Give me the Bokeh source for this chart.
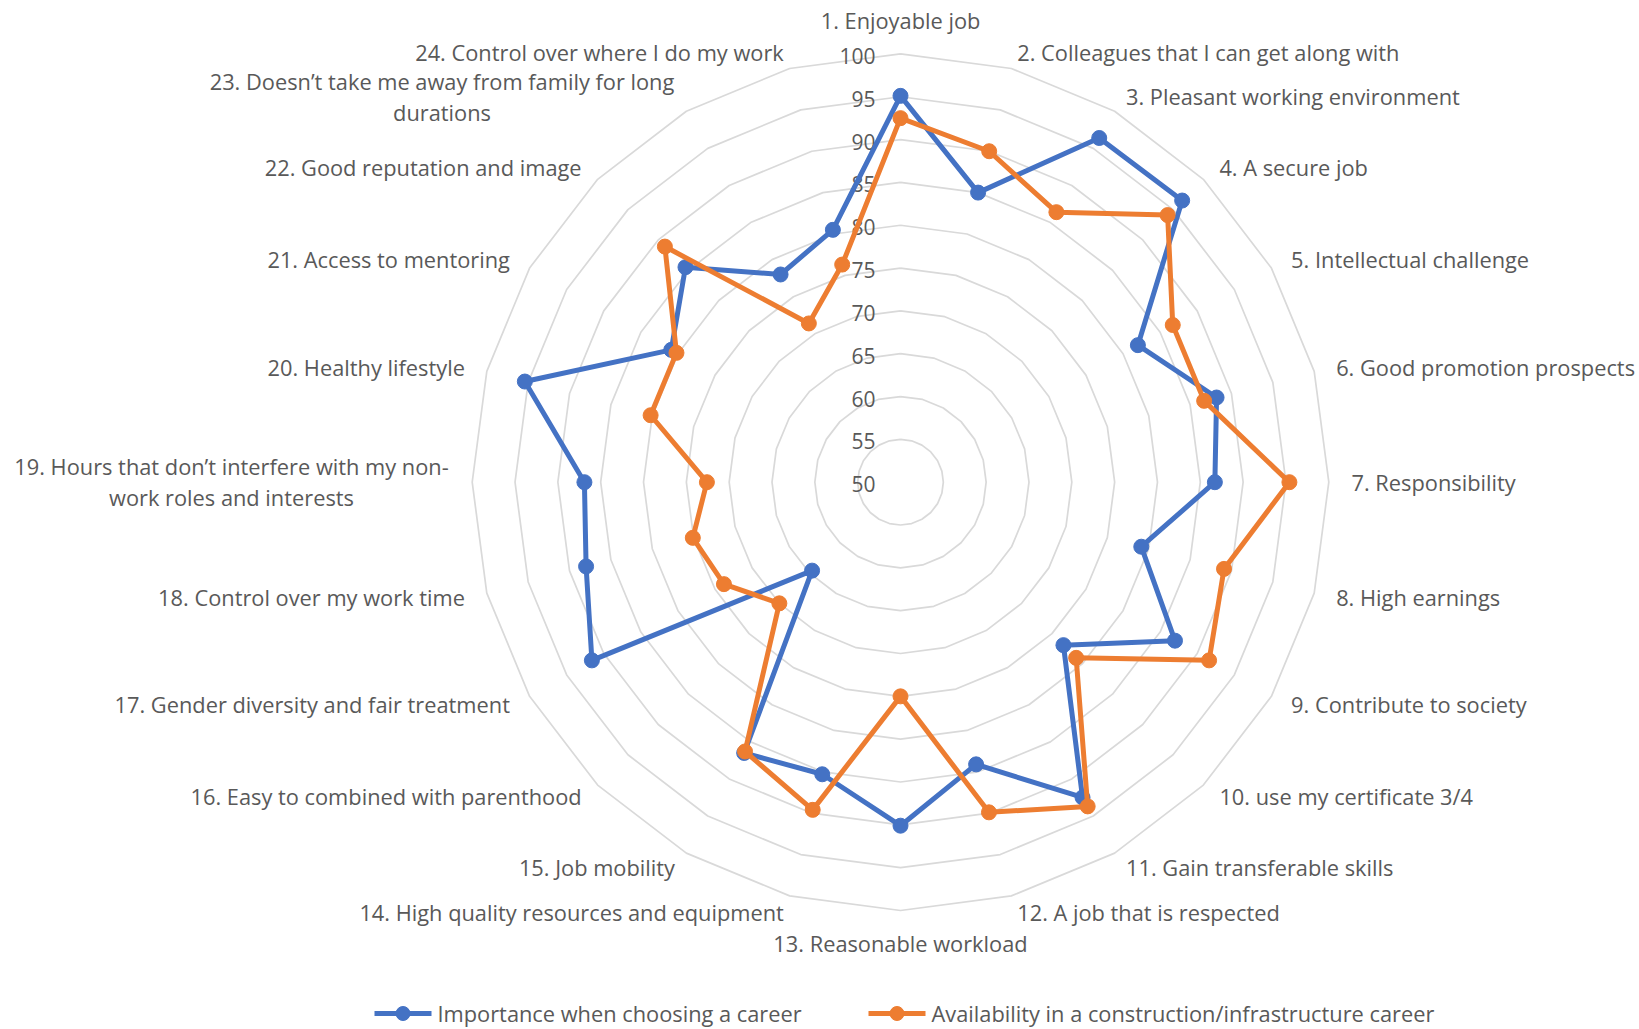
import numpy as np
from bokeh.plotting import figure
from bokeh.models import Range1d, ColumnDataSource
from bokeh.core.properties import value
from bokeh.embed import file_html
from bokeh.resources import INLINE

# ---- data -------------------------------------------------------------
categories = [
    "1. Enjoyable job",
    "2. Colleagues that I can get along with",
    "3. Pleasant working environment",
    "4. A secure job",
    "5. Intellectual challenge",
    "6. Good promotion prospects",
    "7. Responsibility",
    "8. High earnings",
    "9. Contribute to society",
    "10. use my certificate 3/4",
    "11. Gain transferable skills",
    "12. A job that is respected",
    "13. Reasonable workload",
    "14. High quality resources and equipment",
    "15. Job mobility",
    "16. Easy to combined with parenthood",
    "17. Gender diversity and fair treatment",
    "18. Control over my work time",
    "19. Hours that don\u2019t interfere with my non-\nwork roles and interests",
    "20. Healthy lifestyle",
    "21. Access to mentoring",
    "22. Good reputation and image",
    "23. Doesn\u2019t take me away from family for long\ndurations",
    "24. Control over where I do my work",
]

importance = [95.1, 85.0, 96.4, 96.5, 82.0, 88.2, 86.7, 79.1, 87.0, 76.9, 92.5, 84.1,
              90.1, 85.3, 86.5, 64.6, 91.6, 88.0, 86.9, 95.4, 80.9, 85.5, 78.0, 80.5]
availability = [92.5, 90.0, 86.4, 94.1, 86.7, 86.7, 95.4, 89.1, 91.6, 79.0, 93.7, 89.9,
                 75.0, 89.6, 86.3, 70.0, 73.8, 75.1, 72.6, 80.2, 80.2, 88.9, 71.4, 76.3]

series_names = ["Importance when choosing a career",
                "Availability in a construction/infrastructure career"]
tick_values = [50, 55, 60, 65, 70, 75, 80, 85, 90, 95, 100]

# ---- layout / style ---------------------------------------------------
W, H = 1639, 1029
CX, CY = 900, 481.7          # centre of the radar on the page
R_MIN = 50                   # value at the centre
PX_PER_UNIT = 8.566          # radial scale
FONT = "Open Sans"
LABEL_SIZE = "21.8px"
TXT = "#595959"
GRID = "#D9D9D9"
BLUE = "#4472C4"
ORANGE = "#ED7D31"
LINE_W = 5
MARKER = 15

n = len(categories)
theta = np.arange(n) * 2 * np.pi / n   # clockwise from the top


def polar(vals):
    r = (np.asarray(vals, dtype=float) - R_MIN) * PX_PER_UNIT
    return r * np.sin(theta), r * np.cos(theta)


p = figure(width=W, height=H, output_backend="svg", toolbar_location=None,
           x_range=Range1d(-CX, W - CX), y_range=Range1d(-(H - CY), CY),
           min_border=0, outline_line_color=None)
p.axis.visible = False
p.grid.visible = False
p.background_fill_color = "white"

# concentric 24-gon gridlines
for t in tick_values[1:]:
    gx, gy = polar([t] * n)
    p.line(list(gx) + [gx[0]], list(gy) + [gy[0]], line_color=GRID, line_width=1.7)

# radial value labels
tick_src = ColumnDataSource(dict(
    x=[-25] * len(tick_values),
    y=[(t - R_MIN) * PX_PER_UNIT - 2 for t in tick_values],
    text=[str(t) for t in tick_values]))
p.text("x", "y", "text", source=tick_src, text_font=value(FONT),
       text_font_size="21px", text_color=TXT, text_align="right",
       text_baseline="middle")

# category labels placed just outside the outer ring
R_LAB = 445
WRAP_W = {18: 436, 22: 466}   # widths of wrapped two-line labels
for i, lab in enumerate(categories):
    s, c = np.sin(theta[i]), np.cos(theta[i])
    if abs(s) < 1e-6:
        x, y = 0, np.sign(c) * 461.5
        align = "center"
    else:
        x = R_LAB * s + 6 * np.sign(s) * abs(s)
        y = R_LAB * c
        align = "left" if s > 0 else "right"
    lines = lab.split("\n")
    if len(lines) == 1:
        p.text([x], [y], text=[lab], text_font=value(FONT), text_font_size=LABEL_SIZE,
               text_color=TXT, text_align=align, text_baseline="middle")
    else:
        bw = WRAP_W[i]
        xc = x - bw / 2 if align == "right" else x + bw / 2
        step = 30.5
        for k, ln in enumerate(lines):
            yk = y + step * ((len(lines) - 1) / 2 - k)
            p.text([xc], [yk], text=[ln], text_font=value(FONT), text_font_size=LABEL_SIZE,
                   text_color=TXT, text_align="center", text_baseline="middle")

# data series
for vals, col in [(importance, BLUE), (availability, ORANGE)]:
    sx, sy = polar(vals)
    src = ColumnDataSource(dict(x=list(sx) + [sx[0]], y=list(sy) + [sy[0]]))
    p.line("x", "y", source=src, line_color=col, line_width=LINE_W, line_join="round")
    p.scatter(sx, sy, marker="circle", size=MARKER, fill_color=col, line_color=col)

# legend along the bottom: line sample with marker, then the series name
LEG_Y = CY - 1013
LEG_X0 = [374, 868]          # left ends of the line samples (page px)
SAMPLE_W = 57
for x0, col, name in zip(LEG_X0, [BLUE, ORANGE], series_names):
    xl = x0 - CX
    p.line([xl, xl + SAMPLE_W], [LEG_Y, LEG_Y], line_color=col, line_width=LINE_W)
    p.scatter([xl + SAMPLE_W / 2], [LEG_Y], marker="circle", size=MARKER - 1,
              fill_color=col, line_color=col)
    p.text([xl + SAMPLE_W + 6], [LEG_Y], text=[name], text_font=value(FONT),
           text_font_size=LABEL_SIZE, text_color=TXT, text_align="left",
           text_baseline="middle")

open("out.html", "w").write(file_html(p, INLINE))
